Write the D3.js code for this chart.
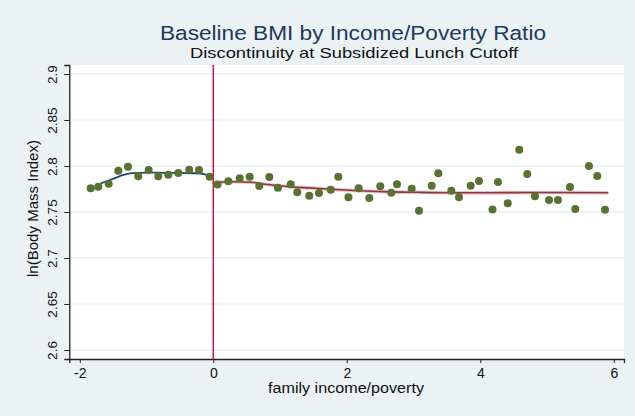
<!DOCTYPE html>
<html>
<head>
<meta charset="utf-8">
<script src="https://cdn.jsdelivr.net/npm/d3@7/dist/d3.min.js"></script>
<style>
  html, body { margin: 0; padding: 0; background: #eaf2f3; }
  svg { display: block; }
  text { font-family: "Liberation Sans", Arial, sans-serif; }
</style>
</head>
<body>
<svg id="chart" width="635" height="416"></svg>
<script>
// Binned means of ln(BMI) by family income/poverty (centred at the lunch cutoff)
const binX = [-1.837, -1.723, -1.567, -1.423, -1.278, -1.124, -0.968, -0.824, -0.674, -0.524, -0.360, -0.214, -0.054,
  0.063, 0.225, 0.396, 0.545, 0.689, 0.839, 0.969, 1.160, 1.258, 1.438, 1.584, 1.759, 1.873, 2.025, 2.178, 2.337,
  2.502, 2.667, 2.752, 2.972, 3.082, 3.272, 3.371, 3.566, 3.681, 3.856, 3.981, 4.183, 4.265, 4.411, 4.584, 4.704,
  4.819, 5.029, 5.164, 5.344, 5.423, 5.628, 5.753, 5.868];
const binY = [2.7758, 2.7775, 2.7808, 2.7949, 2.7992, 2.7888, 2.7957, 2.7888, 2.7905, 2.7924, 2.7960, 2.7957, 2.7884,
  2.7799, 2.7834, 2.7866, 2.7884, 2.7783, 2.7880, 2.7764, 2.7801, 2.7714, 2.7677, 2.7707, 2.7742, 2.7884, 2.7660,
  2.7758, 2.7652, 2.7779, 2.7710, 2.7801, 2.7753, 2.7514, 2.7786, 2.7921, 2.7732, 2.7660, 2.7786, 2.7837, 2.7527,
  2.7826, 2.7595, 2.8177, 2.7913, 2.7671, 2.7630, 2.7630, 2.7772, 2.7533, 2.8000, 2.7892, 2.7525];

// Smoothed fit below the cutoff
const fitLeftX = [-1.687, -1.548, -1.398, -1.248, -0.998, -0.724, -0.499, -0.274, -0.124, 0.0];
const fitLeftY = [2.7812, 2.7848, 2.7891, 2.7921, 2.7929, 2.7926, 2.7924, 2.7921, 2.7910, 2.7884];

// Smoothed fit above the cutoff
const fitRightX = [0.025, 0.325, 0.575, 0.775, 1.025, 1.273, 1.524, 1.774, 2.123, 2.547, 3.047, 3.546, 4.145, 4.894, 5.918];
const fitRightY = [2.7823, 2.7829, 2.7823, 2.7801, 2.7783, 2.7768, 2.7758, 2.7747, 2.7734, 2.7721, 2.7714, 2.7710, 2.7710, 2.7712, 2.7710];

const xTicks = [-2, 0, 2, 4, 6];
const yTicks = [2.6, 2.65, 2.7, 2.75, 2.8, 2.85, 2.9];
const cutoff = 0;

const titleText = "Baseline BMI by Income/Poverty Ratio";
const subtitleText = "Discontinuity at Subsidized Lunch Cutoff";
const xTitle = "family income/poverty";
const yTitle = "ln(Body Mass Index)";

const svg = d3.select("#chart");
const plot = { left: 69.3, right: 624, top: 65, bottom: 359 };

const x = d3.scaleLinear().domain([-2.157, 6.153]).range([plot.left, plot.right]);
const y = d3.scaleLinear().domain([2.5902, 2.9098]).range([plot.bottom, plot.top]);

// background and plot region
svg.append("rect").attr("width", 635).attr("height", 416).attr("fill", "#eaf2f3");
svg.append("rect")
  .attr("x", plot.left).attr("y", plot.top)
  .attr("width", plot.right - plot.left).attr("height", plot.bottom - plot.top)
  .attr("fill", "#ffffff");

// horizontal grid
svg.append("g").selectAll("line").data(yTicks).join("line")
  .attr("x1", plot.left).attr("x2", plot.right)
  .attr("y1", d => y(d)).attr("y2", d => y(d))
  .attr("stroke", "#e8f0f1").attr("stroke-width", 1.5);

// titles
svg.append("text").attr("x", 353).attr("y", 40)
  .attr("text-anchor", "middle").attr("font-size", 19.5).attr("fill", "#22375f")
  .attr("textLength", 386).attr("lengthAdjust", "spacingAndGlyphs")
  .text(titleText);
svg.append("text").attr("x", 354).attr("y", 58)
  .attr("text-anchor", "middle").attr("font-size", 14.5).attr("fill", "#111")
  .attr("textLength", 328).attr("lengthAdjust", "spacingAndGlyphs")
  .text(subtitleText);

// axes
const fmt = d => String(+d.toFixed(2));
const xAxis = svg.append("g").attr("transform", `translate(0,${plot.bottom})`)
  .call(d3.axisBottom(x).tickValues(xTicks).tickSize(4).tickPadding(5).tickFormat(fmt));
xAxis.selectAll("text").attr("font-size", 14).attr("fill", "#111").attr("font-family", "Liberation Sans, Arial, sans-serif");

const yAxis = svg.append("g").attr("transform", `translate(${plot.left},0)`)
  .call(d3.axisLeft(y).tickValues(yTicks).tickSize(5).tickFormat(fmt));
yAxis.selectAll(".tick text")
  .attr("font-size", 13.5).attr("fill", "#111").attr("font-family", "Liberation Sans, Arial, sans-serif")
  .attr("text-anchor", "middle").attr("x", null)
  .attr("transform", "translate(-17,0) rotate(-90)").attr("dy", "0.35em");

[xAxis, yAxis].forEach(a => {
  a.select(".domain").attr("stroke", "#222").attr("stroke-width", 1.3);
  a.selectAll(".tick line").attr("stroke", "#222").attr("stroke-width", 1);
});

svg.append("text").attr("x", 346).attr("y", 393)
  .attr("text-anchor", "middle").attr("font-size", 14).attr("fill", "#111")
  .attr("textLength", 156).attr("lengthAdjust", "spacingAndGlyphs").text(xTitle);
svg.append("text").attr("transform", `translate(38,208.5) rotate(-90)`)
  .attr("text-anchor", "middle").attr("font-size", 14).attr("fill", "#111")
  .attr("textLength", 137).attr("lengthAdjust", "spacingAndGlyphs").text(yTitle);

// fitted curves
const rightFit = fitRightX.map((d, i) => [d, fitRightY[i]]);
const leftFit = fitLeftX.map((d, i) => [d, fitLeftY[i]]);

svg.append("path").datum(rightFit)
  .attr("d", d3.area().x(d => x(d[0])).y0(d => y(d[1]) - 1.8).y1(d => y(d[1]) + 1.8).curve(d3.curveMonotoneX))
  .attr("fill", "#dca7b0").attr("opacity", 0.7);

const line = d3.line().x(d => x(d[0])).y(d => y(d[1])).curve(d3.curveMonotoneX);
svg.append("path").datum(rightFit).attr("d", line)
  .attr("fill", "none").attr("stroke", "#90353b").attr("stroke-width", 1.6);
svg.append("path").datum(leftFit).attr("d", line)
  .attr("fill", "none").attr("stroke", "#1a476f").attr("stroke-width", 1.8);

// cutoff
svg.append("line")
  .attr("x1", x(cutoff)).attr("x2", x(cutoff))
  .attr("y1", plot.top).attr("y2", plot.bottom)
  .attr("stroke", "#d4143f").attr("stroke-width", 1.5);

// binned means
svg.append("g").selectAll("circle").data(binX.map((d, i) => [d, binY[i]])).join("circle")
  .attr("cx", d => x(d[0])).attr("cy", d => y(d[1])).attr("r", 4)
  .attr("fill", "#587232");
</script>
</body>
</html>
